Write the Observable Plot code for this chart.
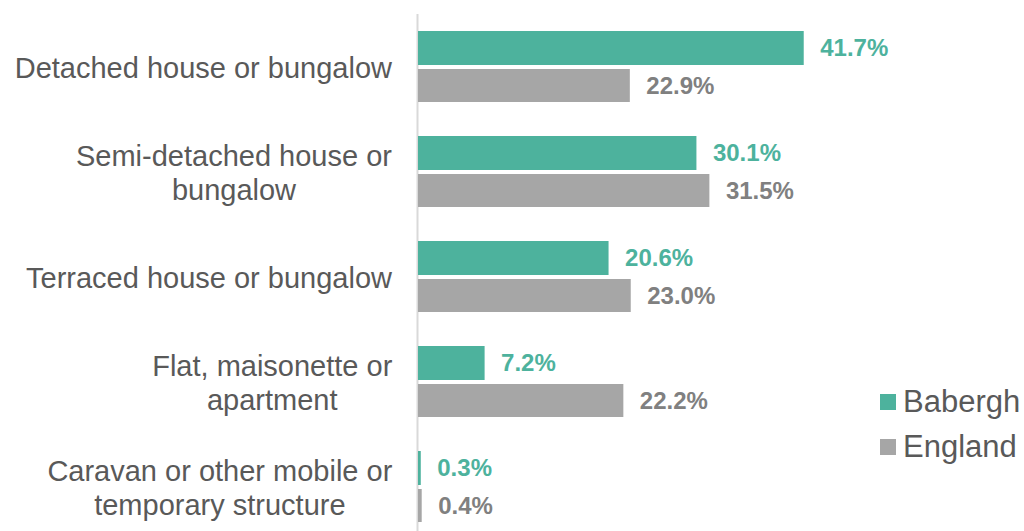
<!DOCTYPE html>
<html>
<head>
<meta charset="utf-8">
<script src="https://cdn.jsdelivr.net/npm/d3@7"></script>
<script src="https://cdn.jsdelivr.net/npm/@observablehq/plot@0.6"></script>
<style>
  body { margin: 0; background: #fff; font-family: "Liberation Sans", Arial, sans-serif; }
  #wrap { position: relative; width: 1024px; height: 531px; }
  #legend { position: absolute; left: 880px; top: 379px; }
  .lg-row { display: flex; align-items: center; height: 45px; line-height: 45px; font-size: 31px; color: #595959; }
  .lg-sw { width: 16px; height: 16px; margin-right: 7px; }
</style>
</head>
<body>
<div id="wrap"></div>
<script>
const categories = [
  "Detached house or bungalow",
  "Semi-detached house or bungalow",
  "Terraced house or bungalow",
  "Flat, maisonette or apartment",
  "Caravan or other mobile or temporary structure"
];
const categoryLabels = [
  "Detached house or bungalow",
  "Semi-detached house or\nbungalow",
  "Terraced house or bungalow",
  "Flat, maisonette or\napartment",
  "Caravan or other mobile or\ntemporary structure"
];
const series = ["Babergh", "England"];
const baberghValues = [41.7, 30.1, 20.6, 7.2, 0.3];
const englandValues = [22.9, 31.5, 23.0, 22.2, 0.4];
const barColors = ["#4DB29D", "#A6A6A6"];
const valueColors = ["#4DB29D", "#808080"];
const labelColor = "#595959";

const rowsB = categories.map((c, i) => ({category: c, series: series[0], value: baberghValues[i]}));
const rowsE = categories.map((c, i) => ({category: c, series: series[1], value: englandValues[i]}));
const cats = categories.map((c, i) => ({category: c, label: categoryLabels[i]}));
const fmt = v => v.toFixed(1) + "%";

const plot = Plot.plot({
  width: 1024,
  height: 531,
  marginLeft: 418,
  marginRight: 51,
  marginTop: 14,
  marginBottom: 0,
  style: {fontFamily: "'Liberation Sans', Arial, sans-serif", background: "#fff"},
  x: {domain: [0, 60], axis: null},
  y: {domain: categories, axis: null, paddingInner: 0.326, paddingOuter: 0.1155, align: 0.66},
  marks: [
    Plot.ruleX([0], {stroke: "#D9D9D9", strokeWidth: 2, dx: -1}),
    Plot.barX(rowsB, {x: "value", y: "category", fill: barColors[0], insetBottom: 37}),
    Plot.barX(rowsE, {x: "value", y: "category", fill: barColors[1], insetTop: 38}),
    Plot.text(rowsB, {x: "value", y: "category", text: d => fmt(d.value), dy: -18.5, dx: 16,
      textAnchor: "start", fill: valueColors[0], fontSize: 24, fontWeight: "bold"}),
    Plot.text(rowsE, {x: "value", y: "category", text: d => fmt(d.value), dy: 19, dx: 16,
      textAnchor: "start", fill: valueColors[1], fontSize: 24, fontWeight: "bold"}),
    Plot.text(cats, {y: "category", text: "label", frameAnchor: "left", dx: -26, textAnchor: "end",
      fill: labelColor, fontSize: 29, lineHeight: 1.17})
  ]
});

const wrap = document.getElementById("wrap");
wrap.appendChild(plot);

// centre the lines of each category label, keeping the widest line's right edge at the anchor
Array.from(plot.querySelectorAll("text"))
  .filter(t => t.getAttribute("fill") === labelColor ||
    (t.parentNode && t.parentNode.getAttribute && t.parentNode.getAttribute("fill") === labelColor))
  .forEach(t => {
    const w = t.getBBox().width;
    t.setAttribute("text-anchor", "middle");
    const tr = t.getAttribute("transform") || "";
    t.setAttribute("transform", tr + ` translate(${-w / 2},0)`);
  });

// legend
const legend = document.createElement("div");
legend.id = "legend";
series.forEach((s, i) => {
  const row = document.createElement("div");
  row.className = "lg-row";
  const sw = document.createElement("div");
  sw.className = "lg-sw";
  sw.style.background = barColors[i];
  const lab = document.createElement("span");
  lab.textContent = s;
  row.appendChild(sw);
  row.appendChild(lab);
  legend.appendChild(row);
});
wrap.appendChild(legend);
</script>
</body>
</html>
